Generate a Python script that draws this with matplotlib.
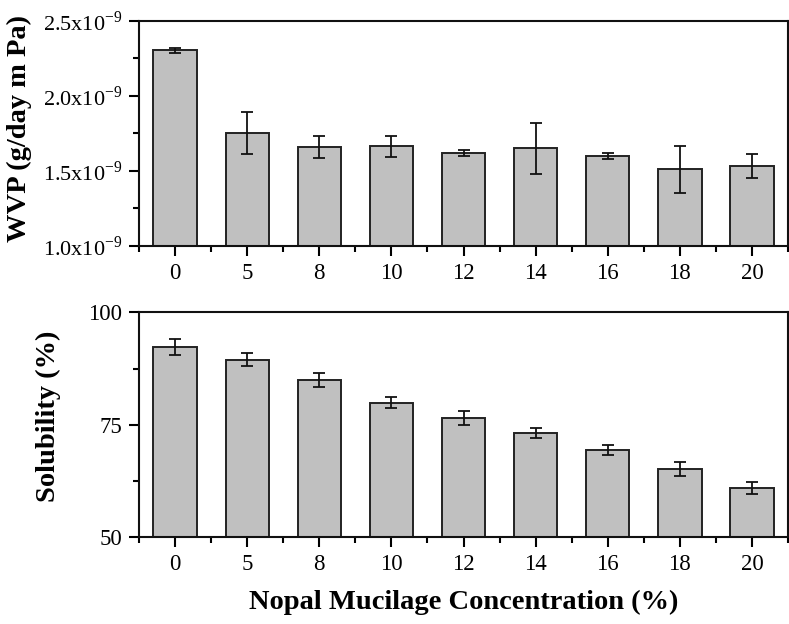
import matplotlib

matplotlib.use("Agg")
import matplotlib.pyplot as plt
from matplotlib.ticker import FixedLocator, FuncFormatter, MultipleLocator


CONCENTRATIONS = ["0", "5", "8", "10", "12", "14", "16", "18", "20"]
WVP = [2.305e-9, 1.751e-9, 1.662e-9, 1.664e-9, 1.620e-9, 1.653e-9, 1.602e-9, 1.511e-9, 1.533e-9]
WVP_ERR = [0.018e-9, 0.140e-9, 0.073e-9, 0.072e-9, 0.022e-9, 0.170e-9, 0.020e-9, 0.155e-9, 0.082e-9]
SOLUBILITY = [92.3, 89.5, 85.0, 79.9, 76.5, 73.2, 69.5, 65.1, 61.0]
SOLUBILITY_ERR = [1.8, 1.4, 1.6, 1.2, 1.5, 1.2, 1.1, 1.55, 1.4]

plt.rcParams["font.family"] = ["Liberation Serif", "DejaVu Serif"]
plt.rcParams["mathtext.fontset"] = "custom"
plt.rcParams["mathtext.rm"] = "Liberation Serif"

BAR_COLOR = "#c0c0c0"
EDGE_COLOR = "#222222"
TICK_SIZE = 16.5
LABEL_SIZE = 20.5


def sci_label(value, _pos):
    return f"{value * 1e9:.1f}x10$^{{\\mathregular{{-9}}}}$"


def style_axes(ax):
    ax.set_xlim(-0.5, len(CONCENTRATIONS) - 0.5)
    ax.set_xticks(range(len(CONCENTRATIONS)))
    ax.set_xticklabels(CONCENTRATIONS)
    ax.xaxis.set_minor_locator(FixedLocator([i - 0.5 for i in range(len(CONCENTRATIONS) + 1)]))
    for spine in ax.spines.values():
        spine.set_linewidth(1.5)
        spine.set_color("#111111")
    ax.tick_params(axis="both", which="major", direction="out", length=7, width=1.5,
                   labelsize=TICK_SIZE, pad=5, top=False, right=False)
    ax.tick_params(axis="both", which="minor", direction="out", length=4, width=1.5,
                   top=False, right=False)


fig = plt.figure(figsize=(7.89, 6.24), dpi=100)
ax_top = fig.add_axes([0.1762, 0.6058, 0.8226, 0.3606])
ax_bot = fig.add_axes([0.1762, 0.1389, 0.8226, 0.3606])

x = range(len(CONCENTRATIONS))
err_style = dict(ecolor="#111111", elinewidth=1.3, capsize=4, capthick=1.3)

ax_top.bar(x, WVP, width=0.6, color=BAR_COLOR, edgecolor=EDGE_COLOR, linewidth=1.4,
           yerr=WVP_ERR, error_kw=err_style, zorder=2)
ax_top.set_ylim(1.0e-9, 2.5e-9)
ax_top.yaxis.set_major_locator(MultipleLocator(0.5e-9))
ax_top.yaxis.set_minor_locator(MultipleLocator(0.25e-9))
ax_top.yaxis.set_major_formatter(FuncFormatter(sci_label))
style_axes(ax_top)
ax_top.tick_params(axis="y", which="major", labelsize=16)
ax_top.set_ylabel("WVP (g/day m Pa)", fontsize=LABEL_SIZE, fontweight="bold")
ax_top.yaxis.set_label_coords(-0.165, 0.52)

ax_bot.bar(x, SOLUBILITY, width=0.6, color=BAR_COLOR, edgecolor=EDGE_COLOR, linewidth=1.4,
           yerr=SOLUBILITY_ERR, error_kw=err_style, zorder=2)
ax_bot.set_ylim(50, 100)
ax_bot.yaxis.set_major_locator(MultipleLocator(25))
ax_bot.yaxis.set_minor_locator(MultipleLocator(12.5))
style_axes(ax_bot)
ax_bot.set_ylabel("Solubility (%)", fontsize=LABEL_SIZE, fontweight="bold")
ax_bot.yaxis.set_label_coords(-0.12, 0.54)
ax_bot.set_xlabel("Nopal Mucilage Concentration (%)", fontsize=LABEL_SIZE, fontweight="bold",
                  labelpad=11)

fig.savefig("out.png", dpi=100)
